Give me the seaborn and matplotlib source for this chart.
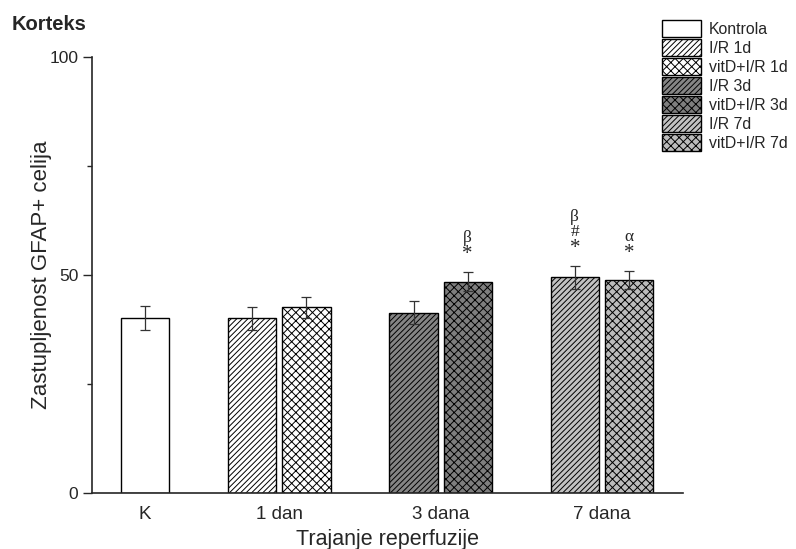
import numpy as np
import pandas as pd
import matplotlib
matplotlib.use("Agg")
import matplotlib.pyplot as plt
from matplotlib.patches import Patch
import seaborn as sns

# podaci
grupe = ["Kontrola", "I/R 1d", "vitD+I/R 1d", "I/R 3d", "vitD+I/R 3d", "I/R 7d", "vitD+I/R 7d"]
vrednosti = [40.1, 40.1, 42.6, 41.4, 48.5, 49.5, 48.9]
sem = [2.7, 2.6, 2.4, 2.7, 2.2, 2.6, 2.1]
x_labele = ["K", "1 dan", "3 dana", "7 dana"]
oznake = [[], [], [], [], ["*", "β"], ["*", "#", "β"], ["*", "α"]]

# izgled
boje = ["white", "white", "white", "#858585", "#7e7e7e", "#c2c2c2", "#bcbcbc"]
srafure = ["", "//////", "xxxx", "//////", "xxxx", "//////", "xxxx"]
centri = np.array([0.166, 1.0, 2.0, 3.0])
pom = 0.168
poz = [centri[0], 1 - pom, 1 + pom, 2 - pom, 2 + pom, 3 - pom, 3 + pom]

sns.set_style("ticks")
plt.rcParams["font.family"] = ["Liberation Sans", "DejaVu Sans"]
plt.rcParams["hatch.linewidth"] = 0.7

df = pd.DataFrame({"poz": poz, "vrednost": vrednosti, "grupa": grupe})

fig = plt.figure(figsize=(7.96, 5.49), dpi=100)
ax = fig.add_axes([0.115, 0.102, 0.743, 0.794])

sns.barplot(data=df, x="poz", y="vrednost", hue="grupa", hue_order=grupe,
            palette=dict(zip(grupe, boje)), native_scale=True, dodge=False,
            width=0.3 / 0.336, errorbar=None, edgecolor="black", linewidth=1.0,
            legend=False, ax=ax)

for p in ax.patches:
    cx = p.get_x() + p.get_width() / 2
    i = int(np.argmin(np.abs(np.array(poz) - cx)))
    p.set_hatch(srafure[i])

ax.errorbar(poz, vrednosti, yerr=sem, fmt="none", ecolor="#333333",
            elinewidth=0.9, capsize=3.5, capthick=0.9)

# oznake znacajnosti iznad gresaka
serif = ["Liberation Serif", "DejaVu Serif"]
for i, lista in enumerate(oznake):
    vrh = vrednosti[i] + sem[i]
    for k, t in enumerate(lista):
        y = vrh + 3.9 if k == 0 else vrh + 7.8 + (k - 1) * 3.4
        ax.text(poz[i], y, t, ha="center", va="center",
                family=serif, fontsize=15 if t == "*" else 12.5)

ax.set_xlim(-0.165, 3.503)
ax.set_ylim(0, 100)
ax.set_xticks(centri)
ax.set_xticklabels(x_labele, fontsize=13.5)
ax.tick_params(axis="x", length=0, pad=9)
ax.set_yticks([0, 50, 100])
ax.set_yticks([25, 75], minor=True)
ax.tick_params(axis="y", which="major", length=6.5, width=1, labelsize=12.5, pad=3)
ax.tick_params(axis="y", which="minor", length=3.5, width=1)
ax.set_xlabel("Trajanje reperfuzije", fontsize=15.5, labelpad=5)
ax.set_ylabel("Zastupljenost GFAP+ celija", fontsize=16)
ax.yaxis.set_label_coords(-0.067, 0.5)
sns.despine(ax=ax)
for s in ["left", "bottom"]:
    ax.spines[s].set_linewidth(1.2)

fig.text(0.014, 0.956, "Korteks", fontsize=14.5, fontweight="bold", va="center")

ruke = [Patch(facecolor=boje[i], edgecolor="black", hatch=srafure[i], linewidth=1.0)
        for i in range(len(grupe))]
fig.legend(ruke, grupe, loc="upper left", bbox_to_anchor=(0.824, 0.975),
           frameon=False, fontsize=11.4, handlelength=2.45, handleheight=1.3,
           labelspacing=0.11, handletextpad=0.5, borderaxespad=0)

fig.savefig("out.png", dpi=100)
